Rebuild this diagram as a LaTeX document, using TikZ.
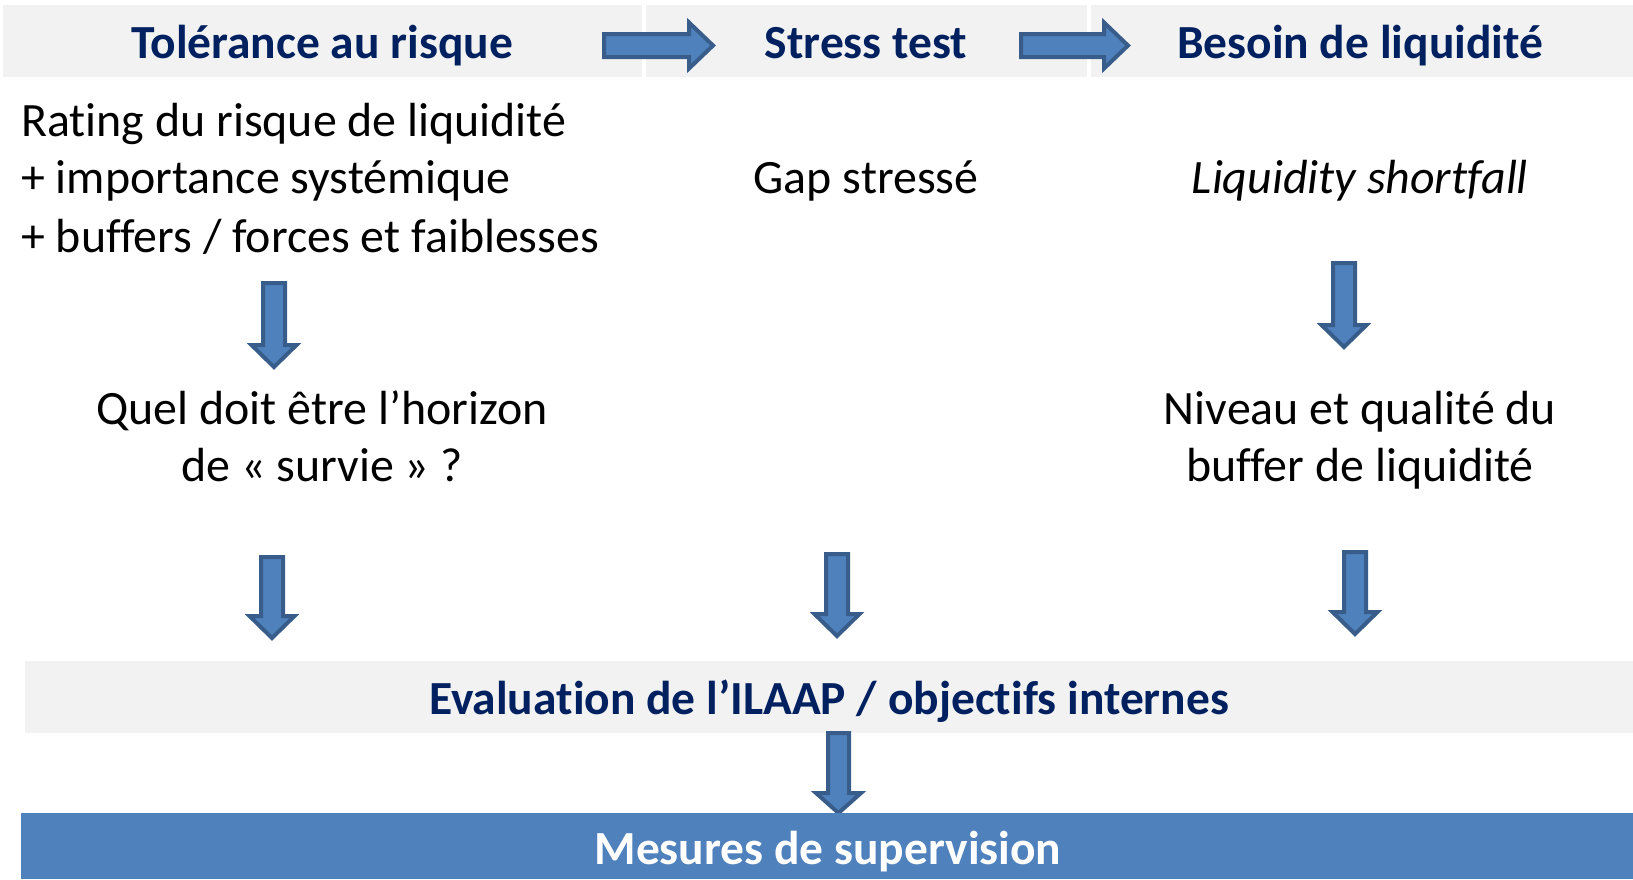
\documentclass[tikz,border=0pt]{standalone}
\usepackage{fontspec}
\setmainfont{Carlito}[Ligatures={NoCommon}]
\definecolor{hdrbg}{HTML}{F2F2F2}
\definecolor{navy}{HTML}{002060}
\definecolor{afill}{HTML}{4F81BD}
\definecolor{aline}{HTML}{385D8A}
\newcommand{\downarr}[3]{\draw[blockarr] ({#1-11},#2) -- ({#1+11},#2) -- ({#1+11},{#3-22}) -- ({#1+22.5},{#3-22}) -- (#1,#3) -- ({#1-22.5},{#3-22}) -- ({#1-11},{#3-22}) -- cycle;}
\newcommand{\rightarr}[3]{\draw[blockarr] (#1,{#3-11.5}) -- ({#2-24},{#3-11.5}) -- ({#2-24},{#3-23}) -- (#2,#3) -- ({#2-24},{#3+23}) -- ({#2-24},{#3+11.5}) -- (#1,{#3+11.5}) -- cycle;}
\tikzset{
  blockarr/.style={fill=afill, draw=aline, line width=4pt},
  band/.style={fill=hdrbg, draw=none},
  hdr/.style={inner sep=0, anchor=base, text=navy, font=\fontsize{47.5}{57}\selectfont\bfseries},
  body/.style={inner sep=0, anchor=base, text=black, font=\fontsize{47.9}{57}\selectfont},
}
\begin{document}
\begin{tikzpicture}[x=1pt,y=-1pt]
\useasboundingbox (0,0) rectangle (1633,879);
% header bands
\fill[band] (3,5) rectangle (642,77);
\fill[band] (646,5) rectangle (1087,77);
\fill[band] (1091,5) rectangle (1633,77);
\node[hdr] (h1) at (322,58) {Tolérance au risque};
\node[hdr] (h2) at (866,58) {Stress test};
\node[hdr] (h3) at (1360,58) {Besoin de liquidité};
\rightarr{604}{713}{45.5}
\rightarr{1021}{1128}{45.5}
% body
\node[body, anchor=base west] (l1) at (21,136) {Rating du risque de liquidité};
\node[body, anchor=base west] (l2) at (21,193) {+ importance systémique};
\node[body, anchor=base west] (l3) at (21,252) {+ buffers / forces et faiblesses};
\node[body] (gap) at (866,193) {Gap stressé};
\node[body] (liq) at (1360,193) {\itshape Liquidity shortfall};
\node[body] (q1) at (322,424) {Quel doit être l’horizon};
\node[body] (q2) at (322,481) {de « survie » ?};
\node[body] (n1) at (1360,424) {Niveau et qualité du};
\node[body] (n2) at (1360,481) {buffer de liquidité};
\downarr{274}{283}{367}
\downarr{1344}{263}{347}
\downarr{272}{557}{638}
\downarr{837}{554}{636}
\downarr{1355}{552}{634}
% evaluation band
\fill[band] (25,661) rectangle (1633,733);
\node[hdr] (ev) at (829,714) {Evaluation de l’ILAAP / objectifs internes};
\draw[blockarr] (828,733) -- (849,733) -- (849,793) -- (861,793) -- (838.5,813) -- (816,793) -- (828,793) -- cycle;
% mesures band
\fill[afill] (21,813) rectangle (1633,879);
\node[hdr, text=white] (mes) at (828,864) {Mesures de supervision};
\end{tikzpicture}
\end{document}
